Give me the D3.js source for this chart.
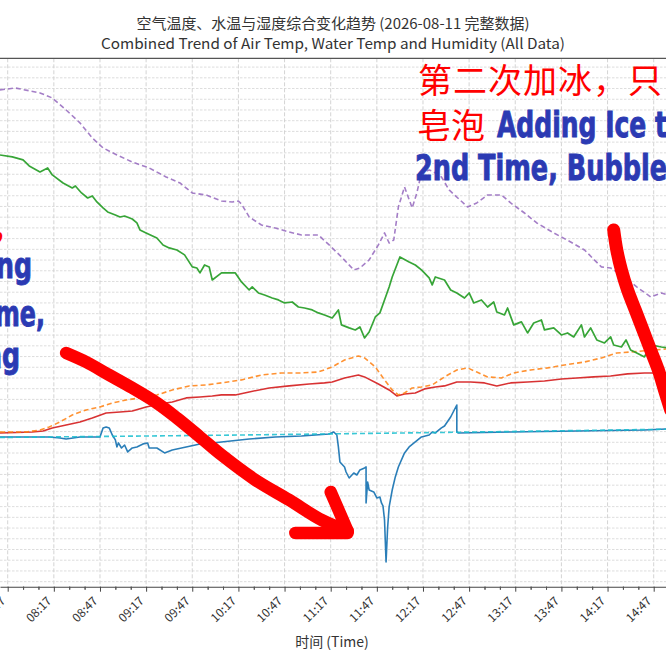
<!DOCTYPE html>
<html>
<head>
<meta charset="utf-8">
<script src="https://cdn.jsdelivr.net/npm/d3@7"></script>
<style>
  html, body { margin: 0; padding: 0; background: #fff; }
  svg { display: block; }
  .cjk { font-family: "Noto Sans CJK SC", "Noto Sans", sans-serif; }
  .bold-note { font-family: "Liberation Sans Narrow", "DejaVu Sans Condensed", "Liberation Sans", sans-serif; font-weight: bold; }
</style>
</head>
<body>
<svg id="chart" width="666" height="666"></svg>
<script>
// x axis tick labels (every 30 min)
const TICK_LABELS = ["07:47","08:17","08:47","09:17","09:47","10:17","10:47","11:17",
  "11:47","12:17","12:47","13:17","13:47","14:17","14:47"];

// series values are [time, value], value in horizontal grid units

// air temp (red)
const AIR_TEMP = [["07:42",13.87],["08:03",13.96],["08:10",14.06],["08:16",14.34],["08:25",14.62],["08:34",14.90],
  ["08:42",15.27],["08:51",15.74],["09:00",15.83],["09:08",15.92],["09:17",16.30],["09:26",16.58],["09:34",16.76],
  ["09:43",17.14],["09:52",17.23],["10:00",17.32],["10:06",17.42],["10:15",17.42],["10:24",17.70],["10:37",18.07],
  ["10:50",18.26],["11:03",18.44],["11:13",18.54],["11:18",18.63],["11:26",19.00],["11:35",19.28],["11:39",19.10],
  ["11:48",18.44],["11:55",17.88],["12:00",17.32],["12:05",17.51],["12:12",17.60],["12:18",17.98],["12:25",18.16],
  ["12:31",18.26],["12:39",18.63],["12:48",18.63],["12:57",18.54],["13:05",18.26],["13:14",18.54],["13:25",18.63],
  ["13:36",18.72],["13:47",18.91],["13:57",19.00],["14:08",19.10],["14:19",19.19],["14:30",19.38],["14:41",19.47],
  ["14:56",19.47]];

// air temp, second sensor (orange dashed)
const AIR_TEMP_2 = [["07:42",13.96],["07:59",13.96],["08:08",14.15],["08:14",14.43],["08:21",14.90],["08:29",15.55],
  ["08:38",16.02],["08:47",16.30],["08:55",16.67],["09:04",16.95],["09:13",17.14],["09:24",17.42],["09:34",17.88],
  ["09:45",18.26],["09:56",18.35],["10:06",18.54],["10:19",18.82],["10:32",19.28],["10:45",19.47],["10:58",19.47],
  ["11:09",19.56],["11:18",20.03],["11:26",20.68],["11:35",21.05],["11:39",20.87],["11:46",20.03],["11:52",18.82],
  ["11:57",17.88],["12:01",17.42],["12:05",17.60],["12:10",18.07],["12:16",18.16],["12:23",18.35],["12:31",19.10],
  ["12:39",19.75],["12:46",19.94],["12:52",19.56],["12:59",19.10],["13:08",19.00],["13:16",19.47],["13:27",19.75],
  ["13:38",19.94],["13:49",20.21],["14:02",20.49],["14:13",20.87],["14:23",21.33],["14:32",21.43],["14:56",21.71]];

// humidity (green)
const HUMIDITY = [["07:42",39.80],["07:50",39.62],["07:57",39.34],["08:01",38.78],["08:08",38.22],["08:13",38.59],
  ["08:16",37.94],["08:23",37.19],["08:29",36.73],["08:31",36.91],["08:35",36.26],["08:39",35.79],["08:42",35.98],
  ["08:45",35.42],["08:49",34.86],["08:52",34.49],["08:57",34.21],["09:00",34.02],["09:03",34.11],["09:08",33.83],
  ["09:11",33.46],["09:13",32.81],["09:17",32.53],["09:24",32.06],["09:28",31.41],["09:32",31.13],["09:37",30.94],
  ["09:42",30.48],["09:47",29.36],["09:50",29.26],["09:52",28.80],["09:55",29.54],["09:58",29.36],["10:00",28.14],
  ["10:06",28.80],["10:15",28.80],["10:19",27.96],["10:24",27.21],["10:26",27.49],["10:30",26.93],["10:34",26.74],
  ["10:39",26.46],["10:43",26.28],["10:47",26.00],["10:52",26.09],["10:56",25.62],["11:00",25.53],["11:05",25.35],
  ["11:09",25.07],["11:13",24.88],["11:18",24.60],["11:22",25.35],["11:24",23.95],["11:29",23.67],["11:33",23.48],
  ["11:36",23.76],["11:39",22.73],["11:42",23.29],["11:46",24.69],["11:49",25.07],["11:52",26.28],["11:55",27.49],
  ["11:57",28.42],["12:02",30.29],["12:08",29.82],["12:12",29.54],["12:16",29.08],["12:21",28.33],["12:23",27.68],
  ["12:25",28.42],["12:31",28.14],["12:35",27.21],["12:39",26.93],["12:44",26.46],["12:47",26.93],["12:50",26.00],
  ["12:55",26.28],["12:59",25.62],["13:03",26.09],["13:05",25.16],["13:10",24.88],["13:12",25.53],["13:16",23.95],
  ["13:21",24.23],["13:25",23.20],["13:29",24.13],["13:34",24.41],["13:36",23.48],["13:42",23.67],["13:47",23.01],
  ["13:51",23.20],["13:55",22.83],["14:00",23.95],["14:02",22.83],["14:06",23.67],["14:10",22.55],["14:15",22.27],
  ["14:19",22.83],["14:21",22.08],["14:26",21.89],["14:29",22.55],["14:32",21.61],["14:36",21.33],["14:41",20.96],
  ["14:45",22.08],["14:52",21.89],["14:56",21.80]];

// humidity, second sensor (purple dashed)
const HUMIDITY_2 = [["07:42",45.87],["07:52",46.05],["08:08",45.59],["08:16",45.12],["08:25",44.00],["08:34",42.79],
  ["08:42",41.39],["08:49",40.46],["08:58",39.80],["09:08",39.15],["09:19",38.59],["09:30",37.75],["09:39",37.19],
  ["09:47",36.26],["09:56",36.07],["10:06",35.51],["10:13",35.42],["10:17",35.51],["10:19",35.23],["10:24",34.02],
  ["10:32",33.27],["10:41",32.99],["10:50",32.62],["10:58",32.34],["11:09",32.34],["11:16",31.41],["11:24",30.29],
  ["11:32",29.08],["11:36",29.26],["11:42",30.01],["11:48",31.41],["11:52",32.53],["11:55",31.59],["11:58",31.87],
  ["12:01",34.95],["12:05",36.82],["12:10",34.86],["12:13",36.26],["12:16",38.12],["12:21",38.40],["12:23",38.31],
  ["12:29",37.75],["12:34",36.54],["12:46",34.95],["12:52",35.33],["12:59",36.07],["13:08",36.07],["13:14",35.33],
  ["13:23",34.39],["13:31",33.46],["13:42",32.53],["13:53",31.69],["14:02",30.94],["14:13",29.36],["14:19",29.26],
  ["14:28",28.42],["14:36",27.49],["14:45",26.56],["14:52",26.93],["14:56",26.74]];

// water temp (blue)
const WATER_TEMP = [["07:42",13.50],["08:03",13.50],["08:14",13.50],["08:21",13.40],["08:25",13.31],["08:34",13.50],
  ["08:47",13.50],["08:49",14.34],["08:51",14.43],["08:53",14.34],["08:55",13.68],["08:57",13.22],["08:58",12.57],
  ["08:59",12.94],["09:01",12.47],["09:03",12.75],["09:05",12.10],["09:08",12.47],["09:11",12.57],["09:15",12.85],
  ["09:18",12.94],["09:19",12.47],["09:24",12.47],["09:29",12.01],["09:34",12.29],["09:43",12.57],["09:52",12.85],
  ["10:00",12.94],["10:06",13.03],["10:24",13.31],["10:41",13.50],["10:58",13.59],["11:16",13.78],["11:19",13.96],
  ["11:21",13.68],["11:22",12.57],["11:23",11.17],["11:26",10.70],["11:27",10.23],["11:29",9.67],["11:32",10.14],
  ["11:34",9.95],["11:36",10.42],["11:39",10.61],["11:40",10.70],["11:40",7.34],["11:41",9.30],["11:42",8.55],
  ["11:45",8.37],["11:47",7.81],["11:49",7.90],["11:50",7.34],["11:51",7.06],["11:52",5.76],["11:53",1.84],
  ["11:54",5.01],["11:55",6.97],["11:57",8.55],["11:59",9.77],["12:01",10.70],["12:05",12.01],["12:08",12.57],
  ["12:12",13.03],["12:16",13.50],["12:21",13.68],["12:23",13.96],["12:25",13.87],["12:29",14.34],["12:31",14.52],
  ["12:35",15.36],["12:39",16.48],["12:39",13.96],["12:40",13.87],["13:14",13.96],["13:57",14.06],["14:41",14.15],
  ["14:56",14.24]];

// water temp reference (cyan dashed)
const WATER_REF = [["07:42",13.45],["10:06",13.66],["12:31",13.92],["14:56",14.22]];

// hand drawn red arrows, in the same [time, value] space
const ARROW_LEFT = [["08:25",21.33],["08:38",20.49],["08:53",19.28],["09:08",18.07],["09:24",16.67],["09:37",15.27],
  ["09:52",13.50],["10:06",11.82],["10:28",9.49],["10:50",7.62],["11:11",5.76],["11:28",4.73]];
const ARROW_LEFT_HEAD_A = [["11:17",8.37],["11:28",4.73]];
const ARROW_LEFT_HEAD_B = [["10:54",4.54],["11:28",4.54]];
const ARROW_RIGHT = [["14:21",32.81],["14:23",30.94],["14:26",29.08],["14:30",27.21],["14:35",25.35],["14:40",23.48],
  ["14:45",21.61],["14:50",19.75],["14:54",17.88],["14:58",16.02]];

const parseT = d3.timeParse("%H:%M");
const fmt = d3.timeFormat("%H:%M");

const svg = d3.select("#chart");
const plotTop = 58.3, plotBottom = 586.7;

const x = d3.scaleTime()
  .domain([parseT("07:42"), parseT("14:55")])
  .range([0, 666]);
const y = d3.scaleLinear()
  .domain([-0.47, 48.82])
  .range([plotBottom, plotTop]);

svg.append("clipPath").attr("id", "plotClip")
  .append("rect").attr("x", 0).attr("y", plotTop).attr("width", 666).attr("height", plotBottom - plotTop);

// grid
const majorTicks = TICK_LABELS.map(parseT);
const minorTicks = [];
majorTicks.forEach(t => {
  [-20, -10, 10, 20].forEach(m => minorTicks.push(d3.timeMinute.offset(t, m)));
});

svg.append("g")
  .selectAll("line")
  .data(d3.range(0, 49))
  .join("line")
  .attr("x1", 0).attr("x2", 666)
  .attr("y1", d => y(d)).attr("y2", d => y(d))
  .attr("stroke", "#d4d4d4")
  .attr("stroke-width", 0.8)
  .attr("stroke-dasharray", "2.5,1.5");

svg.append("g")
  .selectAll("line")
  .data(majorTicks)
  .join("line")
  .attr("x1", d => x(d)).attr("x2", d => x(d))
  .attr("y1", plotTop).attr("y2", plotBottom)
  .attr("stroke", "#cfcfcf")
  .attr("stroke-width", 0.9)
  .attr("stroke-dasharray", "4,2");

// series
const line = d3.line()
  .x(d => x(parseT(d[0])))
  .y(d => y(d[1]));

const SERIES = [
  { data: AIR_TEMP, color: "#d62728", dash: null, w: 1.6 },
  { data: AIR_TEMP_2, color: "#ff7f0e", dash: "5,3", w: 1.6 },
  { data: HUMIDITY, color: "#2ca02c", dash: null, w: 1.7 },
  { data: HUMIDITY_2, color: "#9467bd", dash: "5,3", w: 1.6 },
  { data: WATER_TEMP, color: "#1f77b4", dash: null, w: 1.6 },
  { data: WATER_REF, color: "#17becf", dash: "5,3", w: 1.6 }
];

svg.append("g")
  .attr("clip-path", "url(#plotClip)")
  .selectAll("path")
  .data(SERIES)
  .join("path")
  .attr("d", s => line(s.data))
  .attr("fill", "none")
  .attr("stroke", s => s.color)
  .attr("stroke-width", s => s.w)
  .attr("stroke-opacity", s => s.dash ? 0.85 : 0.95)
  .attr("stroke-dasharray", s => s.dash)
  .attr("stroke-linejoin", "round");

// frame
svg.append("line").attr("x1", 0).attr("x2", 666).attr("y1", plotTop).attr("y2", plotTop)
  .attr("stroke", "#555").attr("stroke-width", 1.2);

// x axis
const xAxis = svg.append("g")
  .attr("transform", `translate(0,${plotBottom})`)
  .call(d3.axisBottom(x).tickValues(majorTicks).tickFormat(fmt).tickSize(5).tickSizeOuter(0));
xAxis.select(".domain").attr("stroke", "#444").attr("stroke-width", 1.1);
xAxis.selectAll(".tick line").attr("stroke", "#444");
xAxis.selectAll(".tick text")
  .attr("class", "cjk")
  .attr("font-size", 12)
  .attr("fill", "#333")
  .attr("text-anchor", "end")
  .attr("dy", null)
  .attr("y", 0)
  .attr("transform", "translate(-2,15) rotate(-45)");

const minorAxis = svg.append("g")
  .attr("transform", `translate(0,${plotBottom})`)
  .call(d3.axisBottom(x).tickValues(minorTicks).tickFormat("").tickSize(3).tickSizeOuter(0));
minorAxis.select(".domain").remove();
minorAxis.selectAll(".tick line").attr("stroke", "#555");

// titles
svg.append("text").attr("class", "cjk")
  .attr("x", 333).attr("y", 29).attr("text-anchor", "middle")
  .attr("font-size", 14.5).attr("fill", "#333")
  .attr("textLength", 393).attr("lengthAdjust", "spacingAndGlyphs")
  .text("空气温度、水温与湿度综合变化趋势 (2026-08-11 完整数据)");
svg.append("text").attr("class", "cjk")
  .attr("x", 333).attr("y", 48.5).attr("text-anchor", "middle")
  .attr("font-size", 14.5).attr("fill", "#333")
  .attr("textLength", 464).attr("lengthAdjust", "spacingAndGlyphs")
  .text("Combined Trend of Air Temp, Water Temp and Humidity (All Data)");
svg.append("text").attr("class", "cjk")
  .attr("x", 332).attr("y", 647).attr("text-anchor", "middle")
  .attr("font-size", 14).attr("fill", "#333")
  .text("时间 (Time)");

// hand drawn arrows
const arrowLine = d3.line()
  .x(d => x(parseT(d[0])))
  .y(d => y(d[1]))
  .curve(d3.curveCatmullRom.alpha(0.5));

const arrows = svg.append("g")
  .attr("fill", "none")
  .attr("stroke", "#ff0000")
  .attr("stroke-linecap", "round")
  .attr("stroke-linejoin", "round");
[ARROW_LEFT, ARROW_LEFT_HEAD_A, ARROW_LEFT_HEAD_B].forEach(a => {
  arrows.append("path").attr("d", arrowLine(a)).attr("stroke-width", 12.5);
});
arrows.append("path").attr("d", arrowLine(ARROW_RIGHT)).attr("stroke-width", 13);

// annotation texts
const notes = svg.append("g");
notes.append("text").attr("class", "cjk")
  .attr("x", 418).attr("y", 93).attr("font-size", 34).attr("letter-spacing", 1)
  .attr("fill", "#ff0000").text("第二次加冰，只");
notes.append("text").attr("class", "cjk")
  .attr("x", 417).attr("y", 137.5).attr("font-size", 34)
  .attr("fill", "#ff0000").text("皂泡");
notes.append("text").attr("class", "cjk")
  .attr("x", -9).attr("y", 240).attr("font-size", 34)
  .attr("fill", "#ff0000").text("，");

const blueNotes = [
  { text: "Adding Ice t", x: 497, y: 137, anchor: "start", len: 170 },
  { text: "2nd Time, Bubble", x: 415, y: 180, anchor: "start", len: 252 },
  { text: "ng", x: 32, y: 278, anchor: "end", len: 36 },
  { text: "me,", x: 45, y: 326, anchor: "end", len: 50 },
  { text: "ng", x: 20, y: 368, anchor: "end", len: 36 }
];
notes.selectAll("text.bold-note")
  .data(blueNotes)
  .join("text")
  .attr("class", "bold-note")
  .attr("x", d => d.x).attr("y", d => d.y)
  .attr("text-anchor", d => d.anchor)
  .attr("font-size", 36)
  .attr("fill", "#2b3ab3")
  .attr("stroke", "#2b3ab3")
  .attr("stroke-width", 0.9)
  .attr("textLength", d => d.len)
  .attr("lengthAdjust", "spacingAndGlyphs")
  .text(d => d.text);
</script>
</body>
</html>
